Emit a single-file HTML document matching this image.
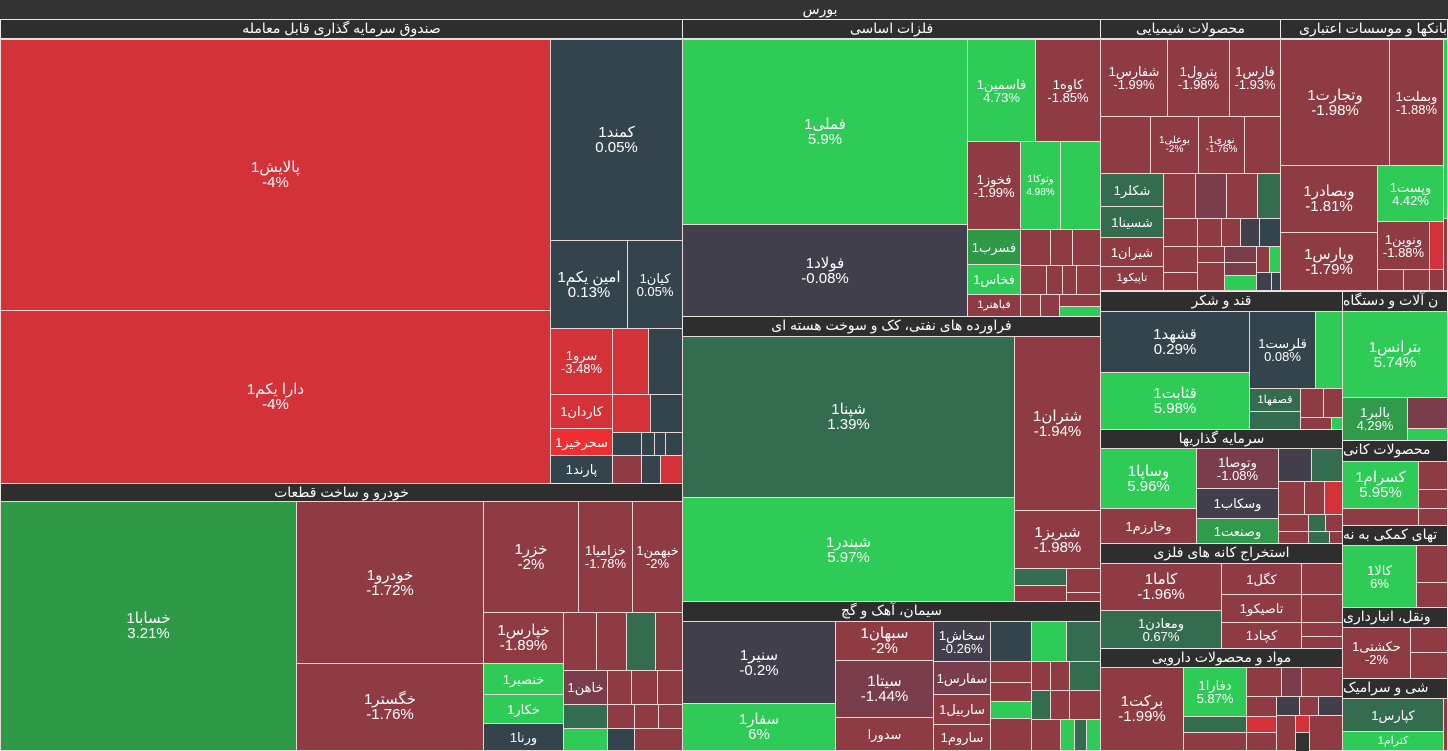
<!DOCTYPE html>
<html><head><meta charset="utf-8">
<style>
body{margin:0;background:#333;width:1448px;height:751px;overflow:hidden;position:relative;font-family:"Liberation Sans","DejaVu Sans",sans-serif;}
div{position:absolute;box-sizing:border-box;}
.t{border:1px solid #e8d8d8;color:#fff;display:flex;align-items:center;justify-content:center;text-align:center;font-size:13px;line-height:13px;direction:rtl;overflow:hidden}
.b{font-size:15px;line-height:15px}
.h{background:#2e2e2e;color:#fff;border:1px solid #e8e8e8;text-align:center;font-size:14px;line-height:17px;direction:rtl;overflow:hidden;white-space:nowrap}
.R{background:#8f3b43}.G{background:#2fcb57}.S{background:#33444d}.RR{background:#d43239}.DG{background:#336c4e}.P{background:#413f4b}.MG{background:#2e9a48}.RP{background:#7a3d4c}.BR{background:#ee2e30}.MG2{background:#2f9b4b}
</style></head><body>
<div style="left:0;top:0;width:1448px;height:19px;background:#333;"></div>
<div style="left:780px;top:0;width:80px;height:19px;color:#fff;text-align:center;font-size:14px;line-height:19px;">بورس</div>

<!-- left column -->
<div class="h" style="left:0;top:19px;width:683px;height:20px">صندوق سرمایه گذاری قابل معامله</div>
<div class="t RR b" style="left:0;top:39px;width:551px;height:272px">پالایش1<br>&lrm;-4%</div>
<div class="t RR b" style="left:0;top:310px;width:551px;height:174px">دارا یکم1<br>&lrm;-4%</div>
<div class="t S b" style="left:550px;top:39px;width:133px;height:202px">کمند1<br>&lrm;0.05%</div>
<div class="t S b" style="left:550px;top:240px;width:78px;height:89px">امین یکم1<br>&lrm;0.13%</div>
<div class="t S" style="left:627px;top:240px;width:56px;height:89px">کیان1<br>&lrm;0.05%</div>
<div class="t RR" style="left:550px;top:328px;width:63px;height:67px">سرو1<br>&lrm;-3.48%</div>
<div class="t RR" style="left:612px;top:328px;width:37px;height:67px"></div>
<div class="t S" style="left:648px;top:328px;width:35px;height:67px"></div>
<div class="t RR" style="left:550px;top:394px;width:63px;height:35px">کاردان1</div>
<div class="t RR" style="left:612px;top:394px;width:39px;height:39px"></div>
<div class="t S" style="left:650px;top:394px;width:33px;height:39px"></div>
<div class="t BR" style="left:550px;top:428px;width:63px;height:28px">سحرخیز1</div>
<div class="t S" style="left:550px;top:455px;width:63px;height:29px">پارند1</div>
<div class="t S" style="left:612px;top:432px;width:30px;height:24px"></div>
<div class="t S" style="left:641px;top:432px;width:14px;height:24px"></div>
<div class="t S" style="left:654px;top:432px;width:12px;height:24px"></div>
<div class="t S" style="left:665px;top:432px;width:18px;height:24px"></div>
<div class="t R" style="left:612px;top:455px;width:30px;height:29px"></div>
<div class="t S" style="left:641px;top:455px;width:20px;height:29px"></div>
<div class="t RR" style="left:660px;top:455px;width:23px;height:29px"></div>

<div class="h" style="left:0;top:483px;width:683px;height:19px">خودرو و ساخت قطعات</div>
<div class="t MG b" style="left:0;top:501px;width:297px;height:250px">خسابا1<br>&lrm;3.21%</div>
<div class="t R b" style="left:296px;top:501px;width:188px;height:163px">خودرو1<br>&lrm;-1.72%</div>
<div class="t R b" style="left:296px;top:663px;width:188px;height:88px">خگستر1<br>&lrm;-1.76%</div>
<div class="t R b" style="left:483px;top:501px;width:96px;height:112px">خزر1<br>&lrm;-2%</div>
<div class="t R" style="left:578px;top:501px;width:55px;height:112px">خزامیا1<br>&lrm;-1.78%</div>
<div class="t R" style="left:632px;top:501px;width:51px;height:112px">خبهمن1<br>&lrm;-2%</div>
<div class="t R b" style="left:483px;top:612px;width:81px;height:52px">خپارس1<br>&lrm;-1.89%</div>
<div class="t G" style="left:483px;top:663px;width:81px;height:32px">خنصیر1</div>
<div class="t G" style="left:483px;top:694px;width:81px;height:30px">خکار1</div>
<div class="t S" style="left:483px;top:723px;width:81px;height:28px">ورنا1</div>
<div class="t R" style="left:563px;top:612px;width:34px;height:59px"></div>
<div class="t R" style="left:596px;top:612px;width:31px;height:59px"></div>
<div class="t DG" style="left:626px;top:612px;width:30px;height:59px"></div>
<div class="t R" style="left:655px;top:612px;width:28px;height:59px"></div>
<div class="t RP" style="left:563px;top:670px;width:45px;height:35px">خاهن1</div>
<div class="t R" style="left:607px;top:670px;width:25px;height:35px"></div>
<div class="t R" style="left:631px;top:670px;width:27px;height:35px"></div>
<div class="t R" style="left:657px;top:670px;width:26px;height:35px"></div>
<div class="t DG" style="left:563px;top:704px;width:45px;height:25px"></div>
<div class="t G" style="left:563px;top:728px;width:45px;height:23px"></div>
<div class="t R" style="left:607px;top:704px;width:28px;height:25px"></div>
<div class="t S" style="left:607px;top:728px;width:28px;height:23px"></div>
<div class="t R" style="left:634px;top:704px;width:25px;height:25px"></div>
<div class="t R" style="left:658px;top:704px;width:25px;height:25px"></div>
<div class="t R" style="left:634px;top:728px;width:49px;height:23px"></div>

<!-- middle column -->
<div class="h" style="left:682px;top:19px;width:419px;height:20px">فلزات اساسی</div>
<div class="t G b" style="left:682px;top:39px;width:286px;height:186px">فملی1<br>&lrm;5.9%</div>
<div class="t P b" style="left:682px;top:224px;width:286px;height:93px">فولاد1<br>&lrm;-0.08%</div>
<div class="t G" style="left:967px;top:39px;width:69px;height:103px">فاسمین1<br>&lrm;4.73%</div>
<div class="t R" style="left:1035px;top:39px;width:66px;height:103px">کاوه1<br>&lrm;-1.85%</div>
<div class="t R" style="left:967px;top:141px;width:54px;height:89px">فخوز1<br>&lrm;-1.99%</div>
<div class="t G" style="left:1020px;top:141px;width:41px;height:89px;font-size:10px">وتوکا1<br>&lrm;4.98%</div>
<div class="t G" style="left:1060px;top:141px;width:41px;height:89px"></div>
<div class="t MG" style="left:967px;top:229px;width:54px;height:36px">فسرب1</div>
<div class="t G" style="left:967px;top:264px;width:54px;height:31px">فخاس1</div>
<div class="t R" style="left:967px;top:294px;width:54px;height:23px;font-size:11px">فباهنر1</div>
<div class="t R" style="left:1020px;top:229px;width:31px;height:37px"></div>
<div class="t R" style="left:1050px;top:229px;width:23px;height:37px"></div>
<div class="t R" style="left:1072px;top:229px;width:29px;height:37px"></div>
<div class="t R" style="left:1020px;top:265px;width:27px;height:30px"></div>
<div class="t R" style="left:1046px;top:265px;width:17px;height:30px"></div>
<div class="t R" style="left:1062px;top:265px;width:15px;height:30px"></div>
<div class="t R" style="left:1076px;top:265px;width:25px;height:30px"></div>
<div class="t R" style="left:1020px;top:294px;width:21px;height:23px"></div>
<div class="t R" style="left:1040px;top:294px;width:20px;height:23px"></div>
<div class="t R" style="left:1059px;top:294px;width:42px;height:13px"></div>
<div class="t G" style="left:1059px;top:306px;width:42px;height:11px"></div>

<div class="h" style="left:682px;top:316px;width:419px;height:21px">فراورده های نفتی، کک و سوخت هسته ای</div>
<div class="t DG b" style="left:682px;top:336px;width:333px;height:162px">شپنا1<br>&lrm;1.39%</div>
<div class="t G b" style="left:682px;top:497px;width:333px;height:105px">شبندر1<br>&lrm;5.97%</div>
<div class="t R b" style="left:1014px;top:336px;width:87px;height:175px">شتران1<br>&lrm;-1.94%</div>
<div class="t R b" style="left:1014px;top:510px;width:87px;height:59px">شبریز1<br>&lrm;-1.98%</div>
<div class="t DG" style="left:1014px;top:568px;width:53px;height:18px"></div>
<div class="t R" style="left:1014px;top:585px;width:53px;height:17px"></div>
<div class="t R" style="left:1066px;top:568px;width:35px;height:25px"></div>
<div class="t R" style="left:1066px;top:592px;width:35px;height:10px"></div>

<div class="h" style="left:682px;top:601px;width:419px;height:21px">سیمان، آهک و گچ</div>
<div class="t P b" style="left:682px;top:621px;width:154px;height:83px">سنیر1<br>&lrm;-0.2%</div>
<div class="t G b" style="left:682px;top:703px;width:154px;height:48px">سفار1<br>&lrm;6%</div>
<div class="t R b" style="left:835px;top:621px;width:99px;height:40px">سبهان1<br>&lrm;-2%</div>
<div class="t RP b" style="left:835px;top:660px;width:99px;height:58px">سیتا1<br>&lrm;-1.44%</div>
<div class="t R" style="left:835px;top:717px;width:99px;height:34px">سدورا</div>
<div class="t P" style="left:933px;top:621px;width:58px;height:41px">سخاش1<br>&lrm;-0.26%</div>
<div class="t RP" style="left:933px;top:661px;width:58px;height:34px">سفارس1</div>
<div class="t R" style="left:933px;top:694px;width:58px;height:31px">ساربیل1</div>
<div class="t R" style="left:933px;top:724px;width:58px;height:27px">ساروم1</div>
<div class="t S" style="left:990px;top:621px;width:42px;height:41px"></div>
<div class="t G" style="left:1031px;top:621px;width:36px;height:41px"></div>
<div class="t DG" style="left:1066px;top:621px;width:35px;height:41px"></div>
<div class="t R" style="left:990px;top:661px;width:42px;height:22px"></div>
<div class="t R" style="left:990px;top:682px;width:42px;height:20px"></div>
<div class="t G" style="left:990px;top:701px;width:42px;height:18px"></div>
<div class="t R" style="left:990px;top:718px;width:42px;height:33px"></div>
<div class="t R" style="left:1031px;top:661px;width:20px;height:30px"></div>
<div class="t R" style="left:1050px;top:661px;width:20px;height:30px"></div>
<div class="t DG" style="left:1069px;top:661px;width:32px;height:30px"></div>
<div class="t DG" style="left:1031px;top:690px;width:20px;height:30px"></div>
<div class="t R" style="left:1050px;top:690px;width:20px;height:30px"></div>
<div class="t R" style="left:1069px;top:690px;width:32px;height:30px"></div>
<div class="t R" style="left:1031px;top:719px;width:30px;height:32px"></div>
<div class="t G" style="left:1060px;top:719px;width:15px;height:32px"></div>
<div class="t DG" style="left:1074px;top:719px;width:13px;height:32px"></div>
<div class="t G" style="left:1086px;top:719px;width:15px;height:32px"></div>

<!-- chemicals -->
<div class="h" style="left:1100px;top:19px;width:181px;height:20px">محصولات شیمیایی</div>
<div class="t R" style="left:1100px;top:39px;width:68px;height:78px">شفارس1<br>&lrm;-1.99%</div>
<div class="t R" style="left:1167px;top:39px;width:63px;height:78px">پترول1<br>&lrm;-1.98%</div>
<div class="t R" style="left:1229px;top:39px;width:52px;height:78px">فارس1<br>&lrm;-1.93%</div>
<div class="t R" style="left:1100px;top:116px;width:51px;height:58px"></div>
<div class="t R" style="left:1150px;top:116px;width:49px;height:58px;font-size:10px;line-height:9px">بوعلی1<br>&lrm;-2%</div>
<div class="t R" style="left:1198px;top:116px;width:47px;height:58px;font-size:10px;line-height:9px">نوری1<br>&lrm;-1.76%</div>
<div class="t R" style="left:1244px;top:116px;width:37px;height:58px"></div>
<div class="t DG" style="left:1100px;top:173px;width:64px;height:34px">شکلر1</div>
<div class="t DG" style="left:1100px;top:206px;width:64px;height:32px">شسینا1</div>
<div class="t R" style="left:1100px;top:237px;width:64px;height:30px">شیران1</div>
<div class="t R" style="left:1100px;top:266px;width:64px;height:25px;font-size:11px">تاپیکو1</div>
<div class="t R" style="left:1163px;top:173px;width:33px;height:46px"></div>
<div class="t RP" style="left:1195px;top:173px;width:32px;height:46px"></div>
<div class="t R" style="left:1226px;top:173px;width:32px;height:46px"></div>
<div class="t DG" style="left:1257px;top:173px;width:24px;height:46px"></div>
<div class="t R" style="left:1163px;top:218px;width:35px;height:29px"></div>
<div class="t R" style="left:1197px;top:218px;width:25px;height:29px"></div>
<div class="t R" style="left:1221px;top:218px;width:20px;height:29px"></div>
<div class="t P" style="left:1240px;top:218px;width:20px;height:29px"></div>
<div class="t S" style="left:1259px;top:218px;width:22px;height:29px"></div>
<div class="t R" style="left:1163px;top:246px;width:35px;height:27px"></div>
<div class="t R" style="left:1163px;top:272px;width:35px;height:19px"></div>
<div class="t R" style="left:1197px;top:246px;width:28px;height:17px"></div>
<div class="t RP" style="left:1224px;top:246px;width:33px;height:17px"></div>
<div class="t R" style="left:1256px;top:246px;width:14px;height:27px"></div>
<div class="t G" style="left:1269px;top:246px;width:12px;height:27px"></div>
<div class="t R" style="left:1197px;top:262px;width:28px;height:29px"></div>
<div class="t RP" style="left:1224px;top:262px;width:33px;height:14px"></div>
<div class="t G" style="left:1224px;top:275px;width:33px;height:16px"></div>
<div class="t P" style="left:1256px;top:272px;width:16px;height:19px"></div>
<div class="t S" style="left:1271px;top:272px;width:10px;height:19px"></div>

<!-- banks -->
<div class="h" style="left:1280px;top:19px;width:168px;height:20px;text-align:right">بانکها و موسسات اعتباری</div>
<div class="t R b" style="left:1280px;top:39px;width:110px;height:127px">وتجارت1<br>&lrm;-1.98%</div>
<div class="t R" style="left:1389px;top:39px;width:55px;height:127px">وبملت1<br>&lrm;-1.88%</div>
<div class="t G" style="left:1443px;top:39px;width:5px;height:180px"></div>
<div class="t R b" style="left:1280px;top:165px;width:98px;height:68px">وبصادر1<br>&lrm;-1.81%</div>
<div class="t R b" style="left:1280px;top:232px;width:98px;height:59px">وپارس1<br>&lrm;-1.79%</div>
<div class="t G" style="left:1377px;top:165px;width:67px;height:57px">وپست1<br>&lrm;4.42%</div>
<div class="t R" style="left:1377px;top:221px;width:53px;height:49px">ونوین1<br>&lrm;-1.88%</div>
<div class="t RR" style="left:1429px;top:221px;width:15px;height:49px"></div>
<div class="t R" style="left:1377px;top:269px;width:27px;height:22px"></div>
<div class="t R" style="left:1403px;top:269px;width:27px;height:22px"></div>
<div class="t R" style="left:1429px;top:269px;width:15px;height:22px"></div>
<div class="t R" style="left:1443px;top:218px;width:5px;height:73px"></div>

<!-- sugar -->
<div class="h" style="left:1100px;top:291px;width:243px;height:21px">قند و شکر</div>
<div class="t S b" style="left:1100px;top:311px;width:150px;height:62px">قشهد1<br>&lrm;0.29%</div>
<div class="t G b" style="left:1100px;top:372px;width:150px;height:58px">قثابت1<br>&lrm;5.98%</div>
<div class="t S" style="left:1249px;top:311px;width:67px;height:78px">قلرست1<br>&lrm;0.08%</div>
<div class="t G" style="left:1315px;top:311px;width:28px;height:78px"></div>
<div class="t DG" style="left:1249px;top:388px;width:52px;height:24px;font-size:11px">قصفها1</div>
<div class="t DG" style="left:1249px;top:411px;width:52px;height:19px"></div>
<div class="t R" style="left:1300px;top:388px;width:24px;height:30px"></div>
<div class="t R" style="left:1323px;top:388px;width:20px;height:30px"></div>
<div class="t R" style="left:1300px;top:417px;width:32px;height:13px"></div>
<div class="t G" style="left:1331px;top:417px;width:12px;height:13px"></div>

<div class="h" style="left:1100px;top:429px;width:243px;height:20px">سرمایه گذاریها</div>
<div class="t G b" style="left:1100px;top:448px;width:97px;height:61px">وساپا1<br>&lrm;5.96%</div>
<div class="t R" style="left:1100px;top:508px;width:97px;height:36px">وخارزم1</div>
<div class="t RP" style="left:1196px;top:448px;width:83px;height:41px">وتوصا1<br>&lrm;-1.08%</div>
<div class="t P" style="left:1196px;top:488px;width:83px;height:31px">وسکاب1</div>
<div class="t MG2" style="left:1196px;top:518px;width:83px;height:26px">وصنعت1</div>
<div class="t P" style="left:1278px;top:448px;width:34px;height:34px"></div>
<div class="t DG" style="left:1311px;top:448px;width:32px;height:34px"></div>
<div class="t R" style="left:1278px;top:481px;width:27px;height:34px"></div>
<div class="t R" style="left:1304px;top:481px;width:21px;height:34px"></div>
<div class="t RR" style="left:1324px;top:481px;width:19px;height:34px"></div>
<div class="t R" style="left:1278px;top:514px;width:31px;height:18px"></div>
<div class="t DG" style="left:1308px;top:514px;width:18px;height:18px"></div>
<div class="t R" style="left:1325px;top:514px;width:18px;height:18px"></div>
<div class="t R" style="left:1278px;top:531px;width:31px;height:13px"></div>
<div class="t DG" style="left:1308px;top:531px;width:22px;height:13px"></div>
<div class="t R" style="left:1329px;top:531px;width:14px;height:13px"></div>

<div class="h" style="left:1100px;top:543px;width:243px;height:21px">استخراج کانه های فلزی</div>
<div class="t R b" style="left:1100px;top:563px;width:122px;height:48px">کاما1<br>&lrm;-1.96%</div>
<div class="t DG" style="left:1100px;top:610px;width:122px;height:39px">ومعادن1<br>&lrm;0.67%</div>
<div class="t R" style="left:1221px;top:563px;width:81px;height:32px">کگل1</div>
<div class="t R" style="left:1221px;top:594px;width:81px;height:29px">تاصیکو1</div>
<div class="t R" style="left:1221px;top:622px;width:81px;height:27px">کچاد1</div>
<div class="t R" style="left:1301px;top:563px;width:42px;height:32px"></div>
<div class="t R" style="left:1301px;top:594px;width:42px;height:29px"></div>
<div class="t R" style="left:1301px;top:622px;width:42px;height:15px"></div>
<div class="t R" style="left:1301px;top:636px;width:42px;height:13px"></div>

<div class="h" style="left:1100px;top:648px;width:243px;height:20px">مواد و محصولات دارویی</div>
<div class="t R b" style="left:1100px;top:667px;width:84px;height:84px">برکت1<br>&lrm;-1.99%</div>
<div class="t G" style="left:1183px;top:667px;width:64px;height:50px">دفارا1<br>&lrm;5.87%</div>
<div class="t DG" style="left:1183px;top:716px;width:64px;height:17px"></div>
<div class="t R" style="left:1183px;top:732px;width:64px;height:19px"></div>
<div class="t R" style="left:1246px;top:667px;width:36px;height:30px"></div>
<div class="t RP" style="left:1281px;top:667px;width:21px;height:30px"></div>
<div class="t R" style="left:1301px;top:667px;width:42px;height:30px"></div>
<div class="t R" style="left:1246px;top:696px;width:31px;height:21px"></div>
<div class="t RR" style="left:1246px;top:716px;width:31px;height:17px"></div>
<div class="t R" style="left:1246px;top:732px;width:31px;height:19px"></div>
<div class="t P" style="left:1276px;top:696px;width:24px;height:20px"></div>
<div class="t R" style="left:1299px;top:696px;width:20px;height:20px"></div>
<div class="t P" style="left:1318px;top:696px;width:25px;height:20px"></div>
<div class="t R" style="left:1276px;top:715px;width:20px;height:36px"></div>
<div class="t RR" style="left:1295px;top:715px;width:15px;height:18px"></div>
<div class="t R" style="left:1309px;top:715px;width:34px;height:36px"></div>

<!-- far right -->
<div class="h" style="left:1342px;top:291px;width:106px;height:21px;text-align:left">ن آلات و دستگاه</div>
<div class="t G b" style="left:1342px;top:311px;width:106px;height:87px">بترانس1<br>&lrm;5.74%</div>
<div class="t MG2" style="left:1342px;top:397px;width:66px;height:44px">بالبر1<br>&lrm;4.29%</div>
<div class="t RP" style="left:1407px;top:397px;width:41px;height:32px"></div>
<div class="t G" style="left:1407px;top:428px;width:41px;height:13px"></div>
<div class="h" style="left:1342px;top:440px;width:106px;height:22px;text-align:left">محصولات کانی</div>
<div class="t G b" style="left:1342px;top:461px;width:77px;height:48px">کسرام1<br>&lrm;5.95%</div>
<div class="t R" style="left:1342px;top:508px;width:77px;height:18px"></div>
<div class="t R" style="left:1418px;top:461px;width:30px;height:29px"></div>
<div class="t R" style="left:1418px;top:489px;width:30px;height:20px"></div>
<div class="t R" style="left:1418px;top:508px;width:30px;height:18px"></div>
<div class="h" style="left:1342px;top:525px;width:106px;height:21px;text-align:left">تهای کمکی به نه</div>
<div class="t G" style="left:1342px;top:545px;width:75px;height:63px">کالا1<br>&lrm;6%</div>
<div class="t R" style="left:1416px;top:545px;width:32px;height:38px"></div>
<div class="t R" style="left:1416px;top:582px;width:32px;height:26px"></div>
<div class="h" style="left:1342px;top:607px;width:106px;height:21px;text-align:left">ونقل، انبارداری</div>
<div class="t R" style="left:1342px;top:627px;width:69px;height:52px">حکشتی1<br>&lrm;-2%</div>
<div class="t R" style="left:1410px;top:627px;width:38px;height:26px"></div>
<div class="t R" style="left:1410px;top:652px;width:38px;height:27px"></div>
<div class="h" style="left:1342px;top:678px;width:106px;height:21px;text-align:left">شی و سرامیک</div>
<div class="t DG" style="left:1342px;top:698px;width:102px;height:34px">کپارس1</div>
<div class="t G" style="left:1342px;top:731px;width:102px;height:20px;font-size:11px">کترام1</div>
<div class="t R" style="left:1443px;top:698px;width:5px;height:53px"></div>
</body></html>
